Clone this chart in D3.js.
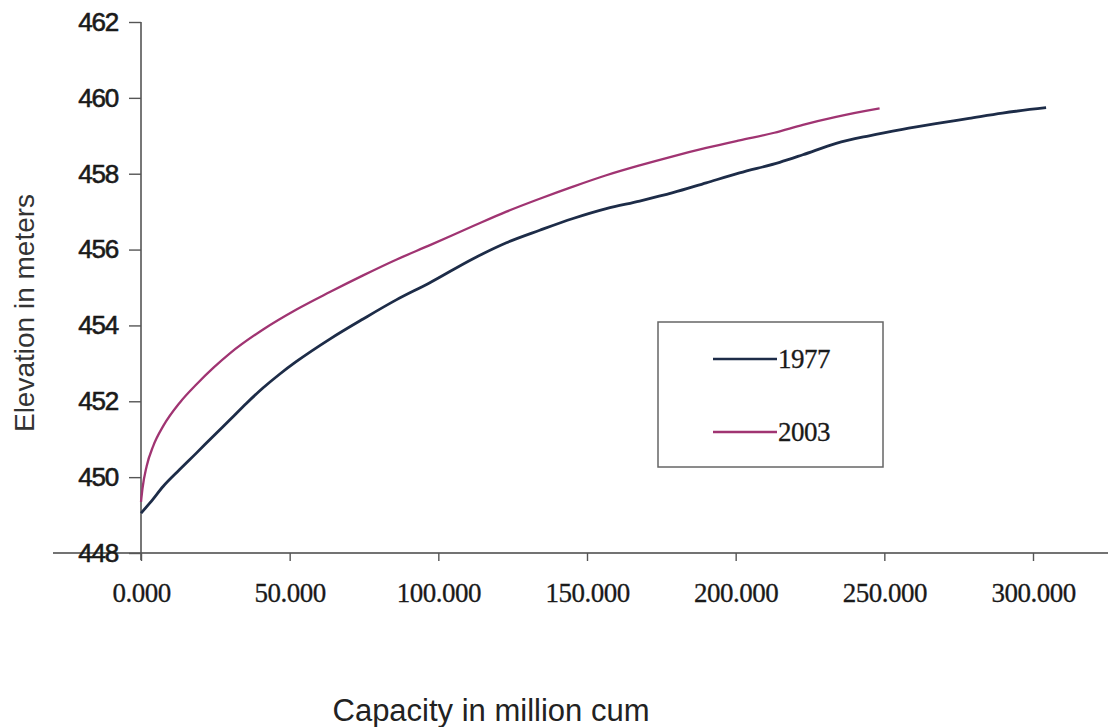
<!DOCTYPE html>
<html>
<head>
<meta charset="utf-8">
<script src="https://cdn.jsdelivr.net/npm/d3@7"></script>
<style>
  body { margin: 0; background: #fff; }
  svg { display: block; }
</style>
</head>
<body>
<div id="chart"></div>
<script>
// values
var capacity1977 = [0, 3, 7.5, 13, 18.7, 24.3, 30, 35.5, 41, 46.7, 52.3, 63.5, 74.7, 86, 97, 111.7, 122.9, 134.1, 145.3, 156.5, 167.7, 178.9, 190.1, 201.3, 214.8, 222.6, 233.8, 244.9, 256.1, 267.3, 278.5, 289.7, 304.4];
var elev1977 = [449.05, 449.32, 449.76, 450.2, 450.64, 451.08, 451.52, 451.95, 452.35, 452.72, 453.05, 453.64, 454.17, 454.68, 455.12, 455.76, 456.18, 456.51, 456.82, 457.08, 457.28, 457.5, 457.76, 458.02, 458.3, 458.5, 458.8, 459.0, 459.17, 459.32, 459.46, 459.6, 459.74];

var capacity2003 = [0, 0.5, 1.9, 4.1, 7.5, 13.1, 18.7, 24.3, 30, 41.2, 52.3, 63.5, 74.7, 86, 97, 111.7, 122.9, 134.1, 145.3, 156.5, 167.7, 178.9, 190.1, 201.3, 213, 222.6, 233.8, 248.4];
var elev2003 = [449.35, 449.7, 450.29, 450.82, 451.35, 451.97, 452.45, 452.88, 453.27, 453.9, 454.42, 454.88, 455.32, 455.74, 456.11, 456.62, 457.0, 457.34, 457.66, 457.96, 458.22, 458.46, 458.68, 458.88, 459.08, 459.29, 459.5, 459.72];

var xTicks = [0, 50, 100, 150, 200, 250, 300];
var yTicks = [448, 450, 452, 454, 456, 458, 460, 462];
var seriesNames = ["1977", "2003"];

var width = 1108, height = 727;
var color = { "1977": "#1d2c48", "2003": "#a03472" };

var svg = d3.select("#chart").append("svg")
    .attr("width", width)
    .attr("height", height);

var x = d3.scaleLinear().domain([0, 300]).range([141, 1033]);
var y = d3.scaleLinear().domain([448, 462]).range([553, 22]);

function zip(xs, ys) {
  return xs.map(function(v, i) { return { cap: v, elev: ys[i] }; });
}
var data = { "1977": zip(capacity1977, elev1977), "2003": zip(capacity2003, elev2003) };

// long horizontal base line (runs past both ends of the axis in the scan)
svg.append("line")
    .attr("x1", 53).attr("x2", width)
    .attr("y1", y(448)).attr("y2", y(448))
    .attr("stroke", "#444").attr("stroke-width", 1.6);

// y axis
var yAxis = d3.axisLeft(y).tickValues(yTicks).tickSize(12).tickSizeOuter(0).tickPadding(11);
var gy = svg.append("g")
    .attr("transform", "translate(" + x(0) + ",0)")
    .call(yAxis);
gy.select(".domain").attr("stroke", "#555").attr("stroke-width", 1.6)
    .attr("d", "M0," + y(462) + "V" + (y(448) + 7));
gy.selectAll(".tick line").attr("stroke", "#555").attr("stroke-width", 1.4);
gy.selectAll(".tick text")
    .attr("fill", "#1a1a1a")
    .attr("stroke", "#1a1a1a").attr("stroke-width", 0.6)
    .style("font-family", "'Liberation Sans', Arial, sans-serif")
    .style("font-size", "26px")
    .style("letter-spacing", "-1.2px");

// x axis
var xAxis = d3.axisBottom(x).tickValues(xTicks).tickSize(8).tickSizeOuter(0).tickPadding(22)
    .tickFormat(d3.format(".3f"));
var gx = svg.append("g")
    .attr("transform", "translate(0," + y(448) + ")")
    .call(xAxis);
gx.select(".domain").remove();
gx.selectAll(".tick line").attr("stroke", "#555").attr("stroke-width", 1.4);
gx.selectAll(".tick text")
    .attr("fill", "#1a1a1a")
    .attr("stroke", "#1a1a1a").attr("stroke-width", 0.3)
    .style("font-family", "'Liberation Serif', 'Times New Roman', serif")
    .style("font-size", "27px")
    .style("letter-spacing", "-0.5px");

// axis titles
svg.append("text")
    .attr("x", 491).attr("y", 721)
    .attr("text-anchor", "middle")
    .attr("fill", "#222")
    .style("font-family", "'Liberation Sans', Arial, sans-serif")
    .style("font-size", "31px")
    .text("Capacity in million cum");

svg.append("text")
    .attr("transform", "translate(34,313) rotate(-90)")
    .attr("text-anchor", "middle")
    .attr("fill", "#333")
    .style("font-family", "'Liberation Sans', Arial, sans-serif")
    .style("font-size", "28px")
    .text("Elevation in meters");

// curves
var line = d3.line()
    .x(function(d) { return x(d.cap); })
    .y(function(d) { return y(d.elev); })
    .curve(d3.curveMonotoneX);

seriesNames.forEach(function(name) {
  svg.append("path")
      .datum(data[name])
      .attr("fill", "none")
      .attr("stroke", color[name])
      .attr("stroke-width", name == "1977" ? 2.8 : 2.3)
      .attr("d", line);
});

// legend
var legend = svg.append("g");
legend.append("rect")
    .attr("x", 658).attr("y", 322)
    .attr("width", 225).attr("height", 145)
    .attr("fill", "#fff")
    .attr("stroke", "#666").attr("stroke-width", 1.5);

seriesNames.forEach(function(name, i) {
  var ly = 359 + i * 73;
  legend.append("line")
      .attr("x1", 713).attr("x2", 777)
      .attr("y1", ly).attr("y2", ly)
      .attr("stroke", color[name]).attr("stroke-width", 2.6);
  legend.append("text")
      .attr("x", 778).attr("y", ly + 9)
      .attr("fill", "#1a1a1a")
      .attr("stroke", "#1a1a1a").attr("stroke-width", 0.3)
      .style("font-family", "'Liberation Serif', 'Times New Roman', serif")
      .style("font-size", "27px")
      .style("letter-spacing", "-0.5px")
      .text(name);
});
</script>
</body>
</html>
